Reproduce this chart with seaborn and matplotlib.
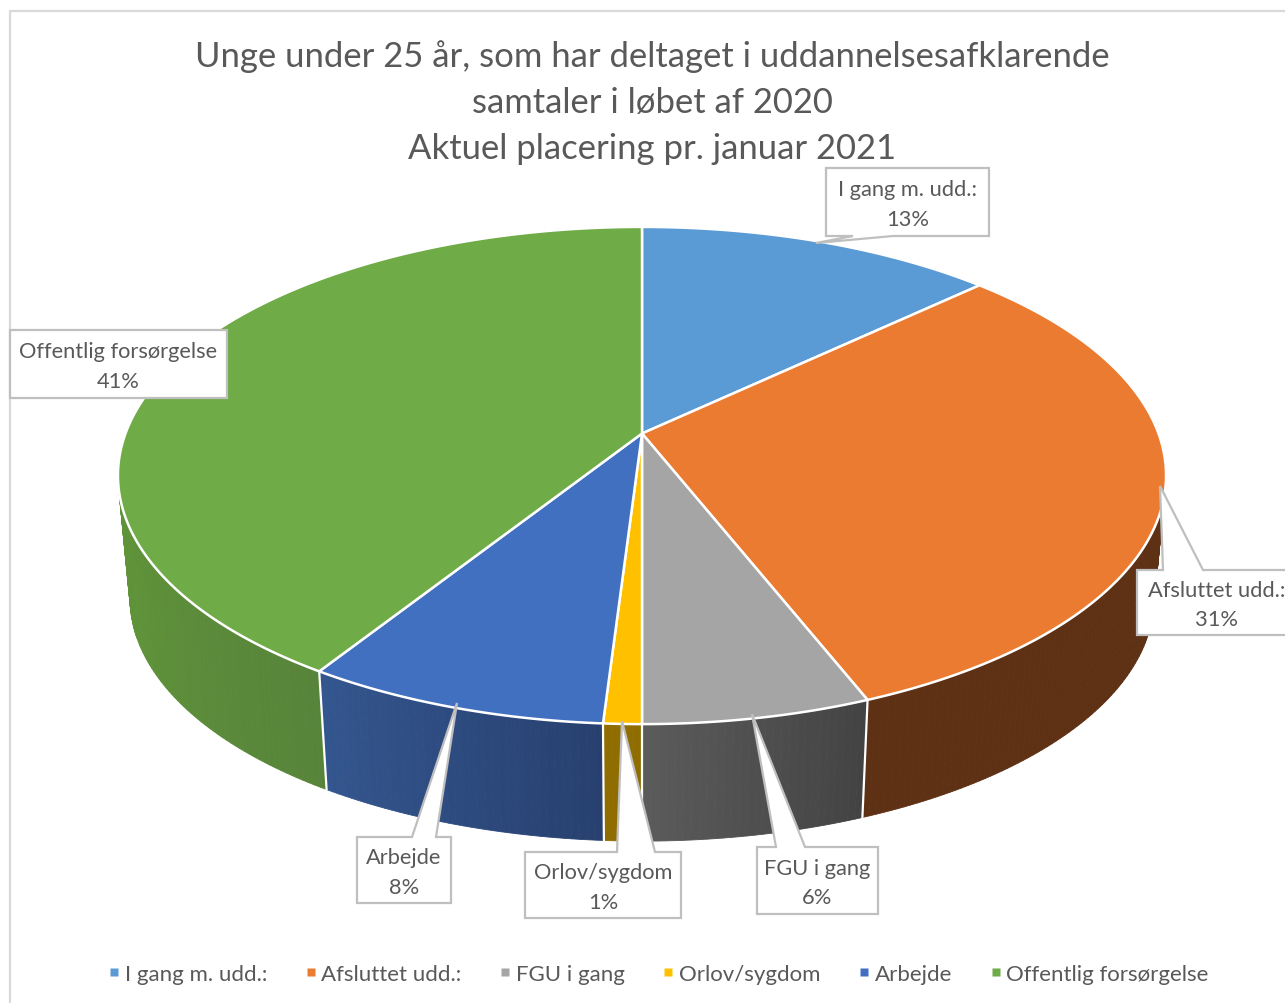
import numpy as np
import matplotlib
matplotlib.use("Agg")
import matplotlib.pyplot as plt
from matplotlib.colors import to_rgb
from matplotlib.lines import Line2D
import seaborn as sns

#data
categories = ["I gang m. udd.:", "Afsluttet udd.:", "FGU i gang", "Orlov/sygdom", "Arbejde", "Offentlig forsørgelse"]
shares = [13, 31, 6, 1, 8, 41]
title_lines = ["Unge under 25 år, som har deltaget i uddannelsesafklarende",
               "samtaler i løbet af 2020",
               "Aktuel placering pr. januar 2021"]
top_colors = ["#5B9BD5", "#EB7B31", "#A5A5A5", "#FFC000", "#4270C0", "#6FAB47"]

#side wall shading, listed clockwise through each slice
wall_colors = [["#3A5F80", "#3A5F80"],
               ["#5E3014", "#5E3014"],
               ["#434343", "#5B5B5B"],
               ["#8F6D00", "#8F6D00"],
               ["#27406F", "#34568F"],
               ["#57843A", "#5F9339", "#5E8E39", "#5E8E39", "#5E8E39"]]

#label boxes: left, top, right, bottom, leader base left, base right, leader tip
boxes = [(826, 169, 989, 237, 853, 893, (816, 244)),
         (1137, 571, 1296, 636, 1163, 1203, (1160, 487)),
         (757, 848, 878, 915, 776, 805, (752, 715)),
         (525, 853, 681, 919, 617, 655, (622, 722)),
         (357, 838, 451, 904, 412, 436, (457, 704)),
         (10, 331, 227, 399, None, None, None)]

TEXT = "#595959"
BOX = "#BFBFBF"

#perspective of the disc, fitted to the picture
CX, CY = 642, 434.5
RX, RY, K = 516.5, 241.5, 0.169
BOTTOM_Y, BOTTOM_S = 558.2, 0.977


def top_xy(a):
    u, v = np.sin(a), -np.cos(a)
    d = 1 - K * v
    return CX + RX * u / d, CY + RY * v / d


def bottom_xy(a):
    u, v = np.sin(a), -np.cos(a)
    d = 1 - K * v
    return CX + BOTTOM_S * RX * u / d, BOTTOM_Y + BOTTOM_S * RY * v / d


sns.set_theme(style="white")
plt.rcParams["font.family"] = ["Lato", "DejaVu Sans"]
palette = sns.color_palette(top_colors)

fig = plt.figure(figsize=(12.85, 10.04), dpi=100)
ax = fig.add_axes([0, 0, 1, 1])
ax.set_xlim(0, 1285)
ax.set_ylim(1004, 0)
ax.axis("off")

#chart frame
ax.plot([9.5, 9.5, 1285], [1004, 11.5, 11.5], color="#D9D9D9", lw=1.6, zorder=1)

edges = np.cumsum([0] + shares) / sum(shares) * 2 * np.pi

#side walls, back strips first
strips = []
for i in range(len(shares)):
    n = max(int((edges[i + 1] - edges[i]) / np.radians(0.75)), 2)
    grid = np.linspace(edges[i], edges[i + 1], n + 1)
    stops = np.array([to_rgb(c) for c in wall_colors[i]])
    pos = np.linspace(0, 1, len(stops))
    for j in range(n):
        t = (j + 0.5) / n
        col = [np.interp(t, pos, stops[:, c]) for c in range(3)]
        strips.append((-np.cos(grid[j]), grid[j], grid[j + 1], col))
strips.sort(key=lambda s: s[0])
for v, a0, a1, col in strips:
    x0, y0 = top_xy(a0)
    x1, y1 = top_xy(a1)
    x2, y2 = bottom_xy(a1)
    x3, y3 = bottom_xy(a0)
    ax.fill([x0, x1, x2, x3], [y0, y1, y2, y3], color=col, lw=0.6, zorder=2)

#white lines between the walls
for a in edges[2:6]:
    x0, y0 = top_xy(a)
    x1, y1 = bottom_xy(a)
    ax.plot([x0, x1], [y0, y1], color="white", lw=1.6, zorder=3)

#top of the pie
for i in range(len(shares)):
    grid = np.linspace(edges[i], edges[i + 1], 200)
    xs, ys = top_xy(grid)
    ax.fill(np.r_[CX, xs], np.r_[CY, ys], facecolor=palette[i], edgecolor="white",
            lw=1.8, joinstyle="round", zorder=4)

#title
for line, y in zip(title_lines, [57, 103, 149]):
    ax.text(652, y, line, ha="center", va="center", fontsize=24.9, color=TEXT, zorder=8)

#label boxes with leaders
for (l, t, r, b, b0, b1, tip), name, share in zip(boxes, categories, shares):
    if tip is None:
        px = [l, r, r, l, l]
        py = [t, t, b, b, t]
    elif tip[1] > b:
        px = [l, b0, tip[0], b1, r, r, l, l]
        py = [b, b, tip[1], b, b, t, t, b]
    else:
        px = [l, b0, tip[0], b1, r, r, l, l]
        py = [t, t, tip[1], t, t, b, b, t]
    ax.fill(px, py, facecolor="white", edgecolor=BOX, lw=1.6, joinstyle="miter", zorder=6)
    xc = (l + min(r, 1296)) / 2
    ax.text(xc, (t + b) / 2 - 12.5, name, ha="center", va="center", fontsize=15.75, color=TEXT, zorder=7)
    ax.text(xc, (t + b) / 2 + 17, f"{share}%", ha="center", va="center", fontsize=15.75, color=TEXT, zorder=7)

#legend
handles = [Line2D([], [], ls="none", marker="s", ms=5.5, mec="none", mfc=c) for c in palette]
ax.legend(handles, categories, ncol=6, loc="center", bbox_to_anchor=(658.5, 975),
          bbox_transform=ax.transData, frameon=False, fontsize=16, labelcolor=TEXT,
          handlelength=0.5, handletextpad=0.22, columnspacing=1.72, borderpad=0)

fig.savefig("out.png", dpi=100)
